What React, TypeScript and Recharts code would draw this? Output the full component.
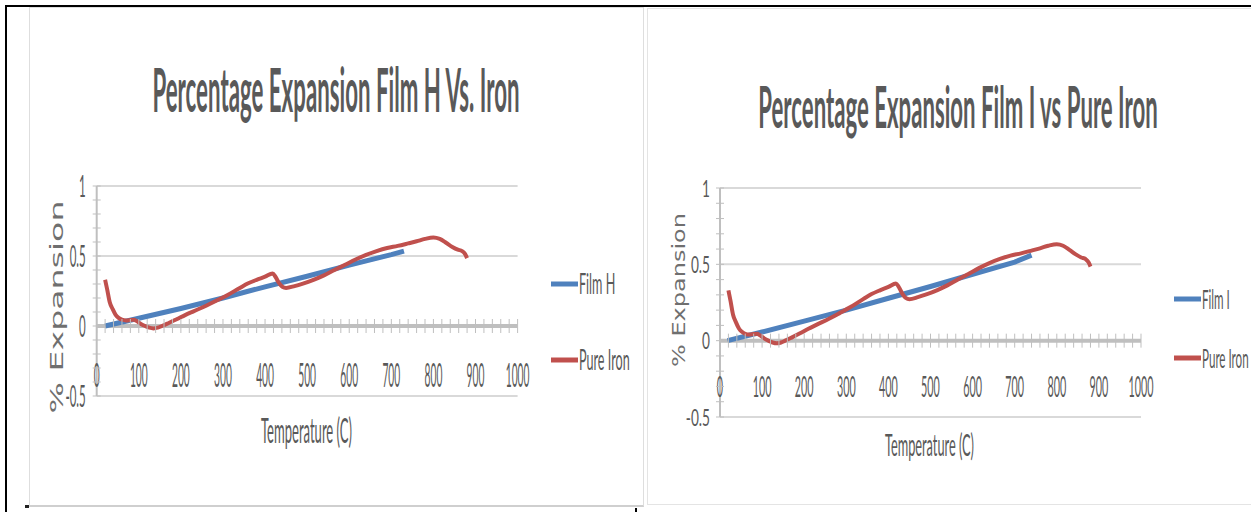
import { Legend, Line, LineChart, ReferenceLine, XAxis, YAxis } from "recharts";

// values (temperature in C, % expansion)
const ironTemp = [20, 25, 31, 38, 45, 52, 60, 70, 80, 88, 95, 105, 115, 125, 135, 145, 155, 170, 190, 210, 230, 260, 285, 310, 340, 360, 380, 400, 418, 425, 433, 441, 450, 470, 490, 515, 540, 565, 590, 615, 640, 665, 690, 715, 740, 760, 780, 800, 815, 830, 845, 858, 868, 875, 880];
const ironPct = [0.33, 0.26, 0.17, 0.12, 0.08, 0.058, 0.045, 0.04, 0.043, 0.045, 0.035, 0.015, 0, -0.012, -0.017, -0.012, 0, 0.02, 0.048, 0.078, 0.105, 0.145, 0.182, 0.22, 0.272, 0.305, 0.33, 0.352, 0.375, 0.35, 0.308, 0.28, 0.272, 0.285, 0.303, 0.33, 0.362, 0.4, 0.437, 0.475, 0.508, 0.535, 0.557, 0.572, 0.59, 0.605, 0.622, 0.632, 0.622, 0.595, 0.565, 0.545, 0.535, 0.515, 0.485];

const filmHTemp = [20, 100, 200, 300, 400, 500, 600, 700, 730];
const filmHPct = [0, 0.055, 0.125, 0.2, 0.28, 0.355, 0.435, 0.51, 0.535];

const filmITemp = [18, 100, 200, 300, 400, 500, 600, 700, 740];
const filmIPct = [0, 0.057, 0.128, 0.2, 0.278, 0.355, 0.435, 0.515, 0.56];

const xLabels = [0, 100, 200, 300, 400, 500, 600, 700, 800, 900, 1000];
const xMinor = Array.from({ length: 51 }, (_, i) => i * 20);
const yLabels = [1, 0.5, 0, -0.5];
const yMinor = [-0.5, -0.4, -0.3, -0.2, -0.1, 0, 0.1, 0.2, 0.3, 0.4, 0.5, 0.6, 0.7, 0.8, 0.9, 1];
const gridValues = [1, 0.5, -0.5];

const Y_MIN = -0.5;
const Y_MAX = 1;
const TEXT = "#595959";
const FONT = "Lato, 'Open Sans', sans-serif";
const YFONT = "'DejaVu Sans', Verdana, sans-serif";
const BLUE = "#4f81bd";
const RED = "#c0504d";

const toPoints = (t: number[], v: number[]) => t.map((x, i) => ({ t: x, v: v[i] }));

// the pasted charts are squeezed sideways, so text is scaled to the widths seen
const ctx = typeof document !== "undefined" ? document.createElement("canvas").getContext("2d") : null;
function textWidth(text: string, font: string) {
  if (!ctx) return text.length * 10;
  ctx.font = font;
  return ctx.measureText(text).width;
}

function FitText({ x, y, text, width, size, weight = "normal", family = FONT, anchor = "middle", rotate = 0, fill = TEXT, baseline }: any) {
  const sx = width / textWidth(text, `${weight} ${size}px ${family}`);
  return (
    <text
      transform={`translate(${x},${y}) rotate(${rotate}) scale(${sx},1)`}
      textAnchor={anchor}
      dominantBaseline={baseline}
      fontSize={size}
      fontWeight={weight}
      fontFamily={family}
      fill={fill}
    >
      {text}
    </text>
  );
}

function XTick(props: any) {
  const { x, y, payload, zeroUp, size, sx, dy } = props;
  const y0 = y - zeroUp;
  const v = payload.value;
  return (
    <g>
      <line x1={x} x2={x} y1={y0 - 7} y2={y0 + 7} stroke="#bfbfbf" strokeWidth={1} />
      {xLabels.includes(v) && (
        <text
          transform={`translate(${x},${y0 + dy}) scale(${sx},1)`}
          textAnchor="middle"
          fontSize={size}
          fontFamily={FONT}
          fill={TEXT}
        >
          {v}
        </text>
      )}
    </g>
  );
}

function YTick(props: any) {
  const { x, y, payload, size, sx, dx } = props;
  const v = payload.value;
  return (
    <g>
      <line x1={x - 4} x2={x + 4} y1={y} y2={y} stroke="#bfbfbf" strokeWidth={1} />
      {yLabels.includes(v) && (
        <text
          transform={`translate(${x - dx},${y + size * 0.36}) scale(${sx},1)`}
          textAnchor="end"
          fontSize={size}
          fontFamily={FONT}
          fill={TEXT}
        >
          {v}
        </text>
      )}
    </g>
  );
}

function LegendBox({ payload, gap, size, sx }: any) {
  return (
    <svg width={100} height={gap + 40}>
      {(payload || []).map((e: any, i: number) => {
        const y = 20 + i * gap;
        return (
          <g key={e.value}>
            <line x1={0} x2={27} y1={y} y2={y} stroke={e.color} strokeWidth={5} />
            <text
              transform={`translate(28,${y + size * 0.37}) scale(${sx},1)`}
              fontSize={size}
              fontFamily={FONT}
              fill={TEXT}
            >
              {e.value}
            </text>
          </g>
        );
      })}
    </svg>
  );
}

function ExpansionChart({ g, filmName, filmTemp, filmPct }: any) {
  const p = g.plot;
  const zeroUp = ((0 - Y_MIN) / (Y_MAX - Y_MIN)) * (p.b - p.t);
  return (
    <div style={{ position: "absolute", left: g.left, top: 0, width: g.width, height: g.height }}>
      <LineChart
        width={g.width}
        height={g.height}
        margin={{ top: p.t, bottom: g.height - p.b - 1, left: p.l - 1, right: g.width - p.r }}
      >
        <XAxis
          type="number"
          dataKey="t"
          domain={[0, 1000]}
          ticks={xMinor}
          interval={0}
          height={1}
          tickSize={0}
          tickMargin={0}
          axisLine={false}
          tickLine={false}
          tick={(tp: any) => <XTick {...tp} zeroUp={zeroUp} {...g.xTick} />}
        />
        <YAxis
          type="number"
          domain={[Y_MIN, Y_MAX]}
          ticks={yMinor}
          interval={0}
          width={1}
          tickSize={0}
          tickMargin={0}
          axisLine={{ stroke: "#bfbfbf", strokeWidth: 2 }}
          tickLine={false}
          tick={(tp: any) => <YTick {...tp} {...g.yTick} />}
        />
        {gridValues.map((v) => (
          <ReferenceLine key={v} y={v} stroke="#d9d9d9" strokeWidth={2} />
        ))}
        <ReferenceLine y={0} stroke="#bfbfbf" strokeWidth={4} />
        <Legend
          layout="vertical"
          align="center"
          verticalAlign="middle"
          wrapperStyle={{ left: g.legend.x, top: g.legend.y - 20, width: 100, height: g.legend.gap + 40 }}
          content={(lp: any) => <LegendBox payload={lp.payload} {...g.legend} />}
        />
        <Line
          data={toPoints(filmTemp, filmPct)}
          dataKey="v"
          name={filmName}
          type="linear"
          stroke={BLUE}
          strokeWidth={5}
          dot={false}
          isAnimationActive={false}
        />
        <Line
          data={toPoints(ironTemp, ironPct)}
          dataKey="v"
          name="Pure Iron"
          type="monotone"
          stroke={RED}
          strokeWidth={4}
          strokeLinejoin="round"
          dot={false}
          isAnimationActive={false}
        />
      </LineChart>
      <svg
        width={g.width}
        height={g.height}
        style={{ position: "absolute", left: 0, top: 0, pointerEvents: "none" }}
      >
        <FitText x={g.title.cx} y={g.title.base} text={g.title.text} width={g.title.len} size={g.title.size} weight="bold" />
        <FitText
          x={g.yTitle.cx}
          y={g.yTitle.cy}
          text="% Expansion"
          width={g.yTitle.len}
          size={g.yTitle.size}
          family={YFONT}
          rotate={-90}
          baseline="central"
          fill="#6f6f6f"
        />
        <FitText x={g.xTitle.cx} y={g.xTitle.base} text="Temperature (C)" width={g.xTitle.len} size={g.xTitle.size} />
      </svg>
    </div>
  );
}

const leftGeo = {
  left: 0,
  width: 640,
  height: 512,
  plot: { l: 96.7, r: 517.6, t: 186, b: 396 },
  title: { text: "Percentage Expansion Film H Vs. Iron", cx: 336, base: 112, size: 62, len: 368 },
  yTitle: { cx: 57, cy: 307, size: 18, len: 213 },
  xTitle: { cx: 306.5, base: 443, size: 35, len: 91 },
  xTick: { size: 33, sx: 0.31, dy: 61 },
  yTick: { size: 31, sx: 0.37, dx: 11 },
  legend: { x: 551, y: 284, gap: 76, size: 28, sx: 0.45 },
};

const rightGeo = {
  left: 640,
  width: 611,
  height: 512,
  plot: { l: 80, r: 501, t: 188, b: 417 },
  title: { text: "Percentage Expansion Film I vs Pure Iron", cx: 318, base: 128, size: 57, len: 400 },
  yTitle: { cx: 39, cy: 290, size: 17, len: 154 },
  xTitle: { cx: 289.5, base: 456, size: 30, len: 89 },
  xTick: { size: 28, sx: 0.385, dy: 56 },
  yTick: { size: 24, sx: 0.57, dx: 10 },
  legend: { x: 534, y: 299, gap: 59, size: 27, sx: 0.43 },
};

export default function App() {
  return (
    <div style={{ position: "absolute", left: 0, top: 0, width: 1251, height: 512, background: "#fff", overflow: "hidden" }}>
      {/* frames around the two pasted charts */}
      <div style={{ position: "absolute", left: 29, top: 7, width: 613, height: 497, border: "1px solid #dedede", borderBottom: "2px solid #cfcfcf" }} />
      <div style={{ position: "absolute", left: 647, top: 8, width: 610, height: 495, border: "1px solid #e4e4e4" }} />
      <div style={{ position: "absolute", left: 5, top: 5, width: 1246, height: 2, background: "#000" }} />
      <div style={{ position: "absolute", left: 5, top: 5, width: 2, height: 507, background: "#000" }} />
      <div style={{ position: "absolute", left: 25, top: 505, width: 4, height: 3, background: "#222" }} />
      <div style={{ position: "absolute", left: 635, top: 508, width: 2, height: 4, background: "#000" }} />
      <ExpansionChart g={leftGeo} filmName="Film H" filmTemp={filmHTemp} filmPct={filmHPct} />
      <ExpansionChart g={rightGeo} filmName="Film I" filmTemp={filmITemp} filmPct={filmIPct} />
    </div>
  );
}
